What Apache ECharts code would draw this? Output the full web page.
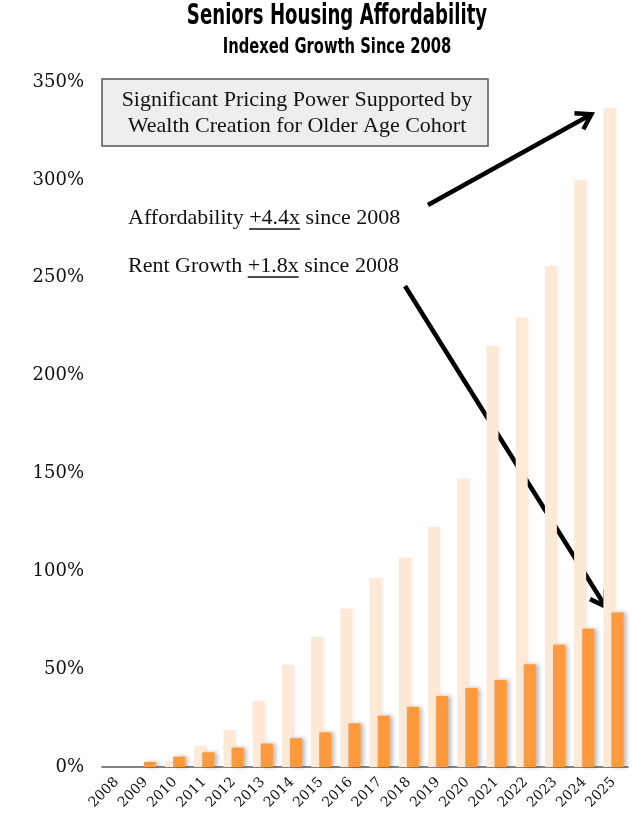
<!DOCTYPE html>
<html>
<head>
<meta charset="utf-8">
<script src="https://cdn.jsdelivr.net/npm/echarts@6/dist/echarts.min.js"></script>
<style>
html, body { margin: 0; padding: 0; background: #fff; }
#chart { width: 640px; height: 831px; }
</style>
</head>
<body>
<div id="chart"></div>
<script>
// categories
const years = ['2008', '2009', '2010', '2011', '2012', '2013', '2014', '2015', '2016',
  '2017', '2018', '2019', '2020', '2021', '2022', '2023', '2024', '2025']
// indexed growth since 2008, %
const affordability = [0, 0, 3, 10.7, 18.9, 33.6, 52.3, 66.4, 80.9,
  96.4, 107, 122.8, 147, 215, 229.5, 255.8, 299.8, 336.6]
const rentGrowth = [0, 2.6, 5.3, 7.5, 9.9, 12, 14.7, 17.7, 22.3,
  26.2, 30.7, 36.3, 40.4, 44.4, 52.5, 62.5, 70.6, 79]
// y axis ticks
const yMin = 0
const yMax = 350
const yStep = 50

const serif = '"Liberation Serif", "DejaVu Serif", serif'
const wideSerif = '"DejaVu Serif", serif'
const narrow = '"Liberation Sans Narrow", "DejaVu Sans Condensed", "DejaVu Sans", sans-serif'

const chart = echarts.init(document.getElementById('chart'))

const option = {
  animation: false,
  backgroundColor: '#fff',
  grid: {
    left: 102,
    right: 12,
    top: 82,
    bottom: 64
  },
  xAxis: {
    type: 'category',
    data: years,
    axisLine: { lineStyle: { color: '#595959', width: 1.5 } },
    axisTick: { show: false },
    axisLabel: {
      rotate: 45,
      margin: 13,
      fontFamily: wideSerif,
      fontSize: 14,
      color: '#111'
    }
  },
  yAxis: {
    type: 'value',
    min: yMin,
    max: yMax,
    interval: yStep,
    axisLine: { show: false },
    axisTick: { show: false },
    splitLine: { show: false },
    axisLabel: {
      formatter: '{value}%',
      margin: 18,
      fontFamily: wideSerif,
      fontSize: 18,
      color: '#111'
    }
  },
  series: [
    {
      name: 'Affordability',
      type: 'bar',
      data: affordability,
      barWidth: 12,
      barGap: '-33%',
      itemStyle: {
        color: '#fee8d6',
        shadowColor: 'rgba(0,0,0,0.06)',
        shadowBlur: 3,
        shadowOffsetX: 2
      }
    },
    {
      name: 'Rent Growth',
      type: 'bar',
      data: rentGrowth,
      barWidth: 12,
      z: 3,
      itemStyle: {
        color: '#fe9a3c',
        shadowColor: 'rgba(0,0,0,0.28)',
        shadowBlur: 4,
        shadowOffsetX: 3
      }
    }
  ]
}

chart.setOption(option)

// annotations anchored to the last bars
const last = years.length - 1
const tipA = chart.convertToPixel({ seriesIndex: 0 }, [last, affordability[last]])
const tipR = chart.convertToPixel({ seriesIndex: 1 }, [last, rentGrowth[last]])

function arrow(x1, y1, x2, y2) {
  const ang = Math.atan2(y2 - y1, x2 - x1)
  const L = 17
  const a = Math.PI / 5.5
  const p1 = [x2 - L * Math.cos(ang - a), y2 - L * Math.sin(ang - a)]
  const p2 = [x2 - L * Math.cos(ang + a), y2 - L * Math.sin(ang + a)]
  return [
    {
      type: 'line',
      shape: { x1: x1, y1: y1, x2: x2 - 2 * Math.cos(ang), y2: y2 - 2 * Math.sin(ang) },
      style: { stroke: '#000', lineWidth: 4.5 }
    },
    {
      type: 'polyline',
      shape: { points: [p1, [x2, y2], p2] },
      style: { stroke: '#000', lineWidth: 4.5, fill: null, lineJoin: 'miter' }
    }
  ]
}

// measure text so the underline sits under the multiplier
const ctx = document.createElement('canvas').getContext('2d')
const noteFont = '22px ' + serif
ctx.font = noteFont
function noteLine(pre, mid, post, x, top, underY) {
  const w1 = ctx.measureText(pre).width
  const w2 = ctx.measureText(mid).width
  return [
    {
      type: 'text',
      style: { text: pre + mid + post, x: x, y: top, font: noteFont, fill: '#111', verticalAlign: 'top' }
    },
    {
      type: 'line',
      shape: { x1: x + w1, y1: underY, x2: x + w1 + w2, y2: underY },
      style: { stroke: '#111', lineWidth: 1.3 }
    }
  ]
}

const graphics = [
  {
    type: 'text',
    x: 337,
    scaleX: 0.72,
    style: {
      text: 'Seniors Housing Affordability',
      x: 0, y: 3,
      font: 'bold 28px ' + narrow,
      fill: '#000',
      align: 'center',
      verticalAlign: 'top'
    }
  },
  {
    type: 'text',
    x: 337,
    scaleX: 0.78,
    style: {
      text: 'Indexed Growth Since 2008',
      x: 0, y: 37,
      font: 'bold 21px ' + narrow,
      fill: '#000',
      align: 'center',
      verticalAlign: 'top'
    }
  },
  {
    type: 'rect',
    shape: { x: 102, y: 79, width: 386, height: 67 },
    style: { fill: '#eeeeee', stroke: '#555', lineWidth: 1.5 }
  },
  {
    type: 'text',
    style: {
      text: 'Significant Pricing Power Supported by\nWealth Creation for Older Age Cohort',
      x: 297, y: 113,
      font: '22px ' + serif,
      lineHeight: 26,
      fill: '#111',
      align: 'center',
      verticalAlign: 'middle'
    }
  }
]
  .concat(noteLine('Affordability ', '+4.4x', ' since 2008', 128, 207, 229))
  .concat(noteLine('Rent Growth ', '+1.8x', ' since 2008', 128, 255, 277))
  .concat(arrow(428, 205, tipA[0] - 22, tipA[1] + 6))
  .concat(arrow(405, 286, tipR[0] - 8, tipR[1] - 6))

chart.setOption({ graphic: graphics })
</script>
</body>
</html>
